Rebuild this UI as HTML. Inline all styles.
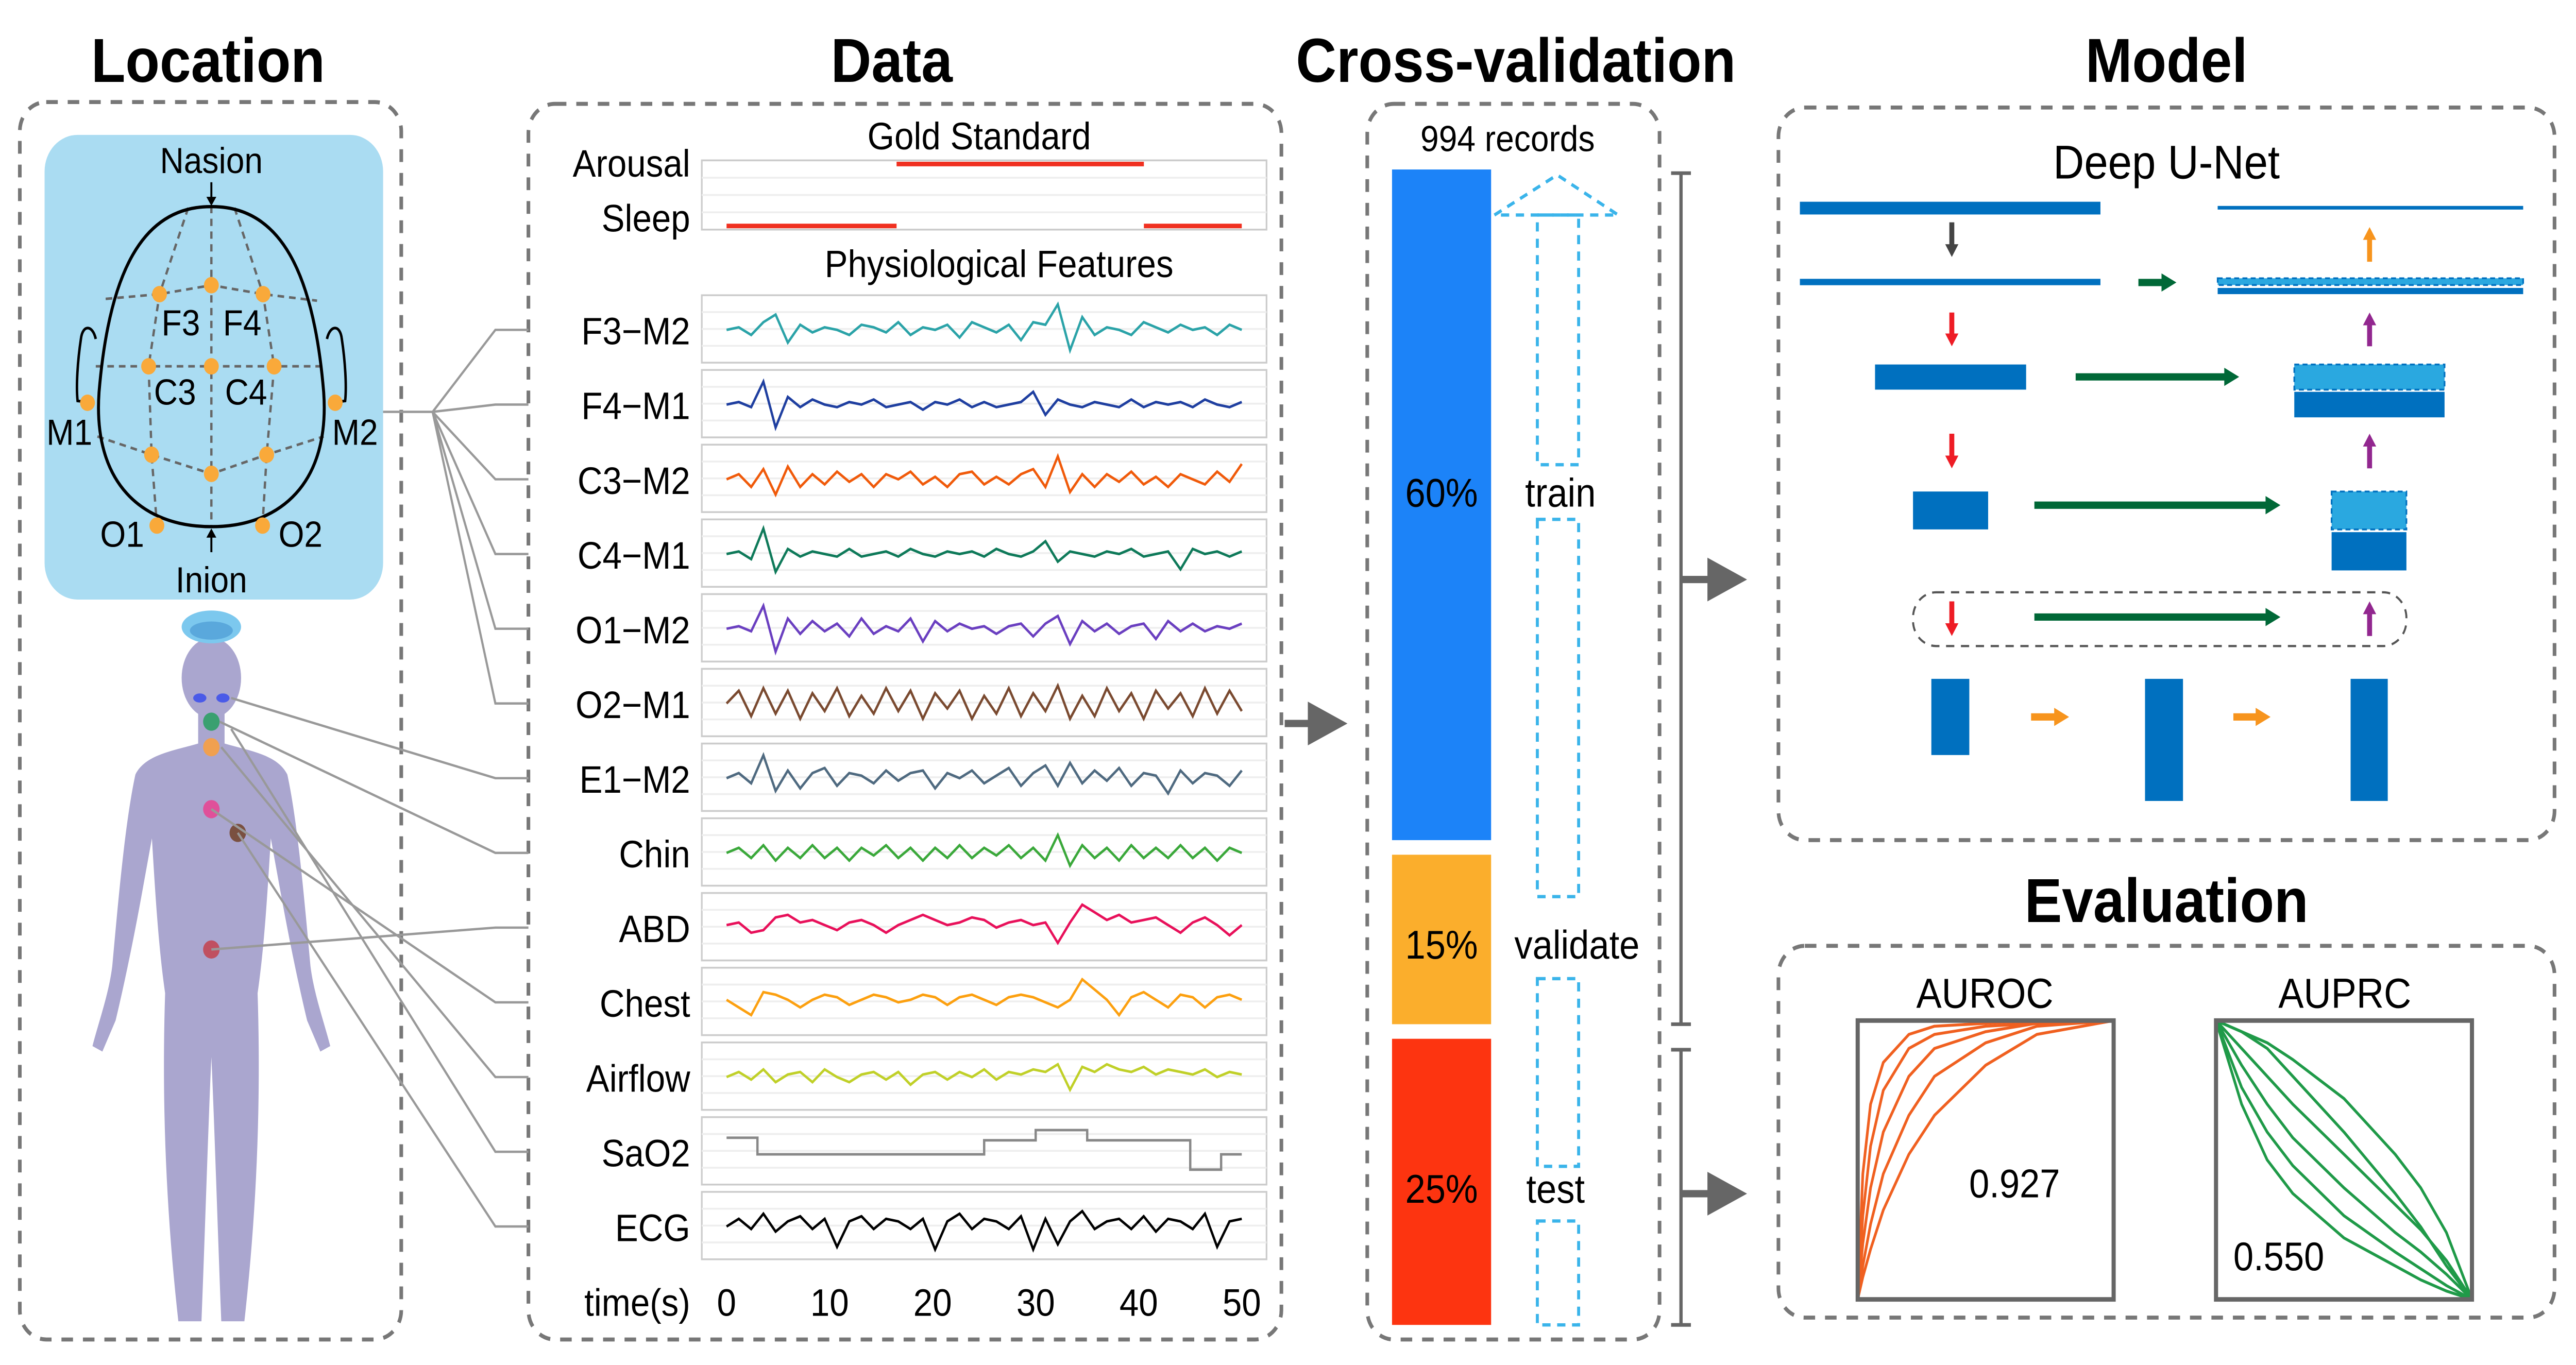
<!DOCTYPE html>
<html><head><meta charset="utf-8"><style>
html,body{margin:0;padding:0;background:#fff;overflow:hidden;width:100%;height:100%}
svg{display:block;position:fixed;left:0;top:0;width:100vw;height:100vh;font-family:"Liberation Sans",Arial,sans-serif}
</style></head><body>
<svg id="fig" viewBox="0 0 1560 749" preserveAspectRatio="none" xmlns="http://www.w3.org/2000/svg">
<defs>
<marker id="ag" markerWidth="6" markerHeight="6" refX="5" refY="3" orient="auto"><path d="M0,0 L6,3 L0,6 Z" fill="#666"/></marker>
</defs>
<g font-weight="bold" font-size="34" text-anchor="middle" fill="#000">
<text x="126" y="45">Location</text>
<text x="540" y="45">Data</text>
<text x="918" y="45">Cross-validation</text>
<text x="1312" y="45">Model</text>
<text x="1312" y="506">Evaluation</text>
</g>
<g fill="none" stroke="#777" stroke-width="2.2" stroke-dasharray="7,6">
<rect x="12" y="56" width="231" height="679" rx="16"/>
<rect x="320" y="57" width="456" height="678" rx="16"/>
<rect x="828" y="57" width="177" height="678" rx="16"/>
<rect x="1077" y="59" width="470" height="402" rx="16"/>
<rect x="1077" y="519" width="470" height="204" rx="16"/>
</g>
<rect x="27" y="74" width="205" height="255" rx="20" fill="#aadcf2"/>
<g fill="none" stroke="#666" stroke-width="1.4" stroke-dasharray="4,3">
<path d="M128,113 L128,289"/>
<path d="M114,114 L96.6,161.4 L90,201 L91.8,249.5 L95,288"/>
<path d="M142,114 L159.3,161.4 L166,201 L161.5,249.5 L159,288"/>
<path d="M64,164 L96.6,161.4 L128,156.5 L159.3,161.4 L192,165"/>
<path d="M58,201 L198,201"/>
<path d="M59,239.5 L91.8,249.5 L128,260 L161.5,249.5 L196,239.5"/>
</g>
<path d="M128,113.4 C170,113 190,150 196,215 C200,265 170,289 128,289 C86,289 56,265 60,215 C66,150 86,113 128,113.4 Z" fill="none" stroke="#000" stroke-width="1.8"/>
<path d="M58,186 C56,178 50,178 49,186 C47,198 46,212 47,220 L56,221" fill="none" stroke="#000" stroke-width="1.5"/>
<path d="M198,186 C200,178 206,178 207,186 C209,198 210,212 209,220 L200,221" fill="none" stroke="#000" stroke-width="1.5"/>
<g fill="#f9a93a">
<circle cx="96.6" cy="161.4" r="4.5"/><circle cx="128" cy="156.5" r="4.5"/><circle cx="159.3" cy="161.4" r="4.5"/>
<circle cx="90" cy="201" r="4.5"/><circle cx="128" cy="201" r="4.5"/><circle cx="166" cy="201" r="4.5"/>
<circle cx="53" cy="221" r="4.5"/><circle cx="203" cy="221" r="4.5"/>
<circle cx="91.8" cy="249.5" r="4.5"/><circle cx="128" cy="260" r="4.5"/><circle cx="161.5" cy="249.5" r="4.5"/>
<circle cx="95" cy="288.4" r="4.5"/><circle cx="159" cy="288.4" r="4.5"/>
</g>
<g font-size="20" text-anchor="middle" fill="#000">
<text x="128" y="95">Nasion</text>
<text x="128" y="325">Inion</text>
<text x="109.5" y="184">F3</text>
<text x="146.7" y="184">F4</text>
<text x="106" y="222">C3</text>
<text x="149" y="222">C4</text>
<text x="42" y="244">M1</text>
<text x="215" y="244">M2</text>
<text x="74" y="300">O1</text>
<text x="182" y="300">O2</text>
</g>
<path d="M128,100 L128,110" stroke="#000" stroke-width="1.2"/><path d="M125,108 L128,113 L131,108Z" fill="#000"/>
<path d="M128,303 L128,293" stroke="#000" stroke-width="1.2"/><path d="M125,295 L128,290 L131,295Z" fill="#000"/>
<path fill="#aaa6cf" d="M120,390 L120,408 C105,412 88,414 82,425 C76,450 72,490 68,530 C66,545 60,560 56,574 L62,577 L70,560 C74,545 80,520 86,490 L92,460 C94,490 96,520 100,545 C98,600 100,660 108,725 L122,725 C124,680 126,620 128,580 C130,620 132,680 134,725 L148,725 C156,660 158,600 156,545 C160,520 162,490 164,460 L170,490 C176,520 182,545 186,560 L194,577 L200,574 C196,560 190,545 188,530 C184,490 180,450 174,425 C168,414 151,412 136,408 L136,390 Z"/>
<ellipse cx="128" cy="372" rx="18" ry="22" fill="#aaa6cf"/>
<ellipse cx="128" cy="344" rx="18" ry="9" fill="#7cc8ee"/>
<ellipse cx="128" cy="346" rx="13" ry="5" fill="#5aa8dc"/>
<g>
<ellipse cx="121" cy="383" rx="4" ry="2.5" fill="#4a5ae8"/><ellipse cx="135" cy="383" rx="4" ry="2.5" fill="#4a5ae8"/>
<circle cx="128" cy="396" r="5" fill="#3aa070"/><circle cx="128" cy="410" r="5" fill="#f0a050"/>
<circle cx="128" cy="444" r="5" fill="#e0509a"/><circle cx="144" cy="457" r="5" fill="#7a5040"/>
<circle cx="128" cy="521" r="5" fill="#c05060"/>
</g>
<g id="connectors" fill="none" stroke="#999" stroke-width="1.3"></g>
<g id="panels"></g>
<g font-size="21" text-anchor="middle">
<text x="593" y="82">Gold Standard</text>
<text x="605" y="152">Physiological Features</text>
</g>
<path d="M778,397 L812,397" stroke="#666" stroke-width="4" marker-end="url(#ag)"/>
<text x="913" y="83" font-size="20" text-anchor="middle">994 records</text>
<rect x="843" y="93" width="60" height="368" fill="#1c83f8"/>
<rect x="843" y="469" width="60" height="93" fill="#fbae2c"/>
<rect x="843" y="570" width="60" height="157" fill="#fd3410"/>
<g font-size="22">
<text x="873" y="278" text-anchor="middle">60%</text><text x="945" y="278" text-anchor="middle">train</text>
<text x="873" y="526" text-anchor="middle">15%</text><text x="955" y="526" text-anchor="middle">validate</text>
<text x="873" y="660" text-anchor="middle">25%</text><text x="942" y="660" text-anchor="middle">test</text>
</g>
<g fill="none" stroke="#3ab4ea" stroke-width="1.8" stroke-dasharray="5,4">
<path d="M905,118 L943,96 L980,118 Z"/>
<rect x="931" y="118" width="25" height="137"/>
<rect x="931" y="285" width="25" height="207"/>
<rect x="931" y="537" width="25" height="103"/>
<rect x="931" y="670" width="25" height="57"/>
</g>
<g stroke="#666" stroke-width="2" fill="none">
<path d="M1012,95 L1024,95 M1018,95 L1018,562 M1012,562 L1024,562"/>
<path d="M1012,576 L1024,576 M1018,576 L1018,727 M1012,727 L1024,727"/>
</g>
<path d="M1018,318 L1054,318" stroke="#666" stroke-width="4" marker-end="url(#ag)"/>
<path d="M1018,655 L1054,655" stroke="#666" stroke-width="4" marker-end="url(#ag)"/>
<text x="1312" y="98" font-size="26" text-anchor="middle">Deep U-Net</text>
<g id="unet">
<rect x="1090" y="110.7" width="182" height="7" fill="#0070bf"/>
<rect x="1343" y="113" width="185" height="2" fill="#0070bf"/>
<rect x="1090" y="153" width="182" height="3.5" fill="#0070bf"/>
<rect x="1343" y="152.7" width="185" height="3.7" fill="#2aa8e0" stroke="#0070bf" stroke-width="1" stroke-dasharray="3,2"/>
<rect x="1343" y="158" width="185" height="3.4" fill="#0070bf"/>
<rect x="1135.5" y="200" width="91.5" height="13.8" fill="#0070bf"/>
<rect x="1389.4" y="200" width="91" height="13.8" fill="#2aa8e0" stroke="#0070bf" stroke-width="1" stroke-dasharray="3,2"/>
<rect x="1389.4" y="215" width="91" height="14" fill="#0070bf"/>
<rect x="1158.5" y="269.7" width="45.5" height="20.8" fill="#0070bf"/>
<rect x="1412" y="269.7" width="45.3" height="20.8" fill="#2aa8e0" stroke="#0070bf" stroke-width="1" stroke-dasharray="3,2"/>
<rect x="1412" y="292" width="45.3" height="21" fill="#0070bf"/>
<rect x="1158.5" y="325" width="298.8" height="29.5" rx="14" fill="none" stroke="#555" stroke-width="1.2" stroke-dasharray="5,4"/>
<rect x="1169.6" y="372.5" width="23" height="41.8" fill="#0070bf"/>
<rect x="1299" y="372.5" width="23" height="67" fill="#0070bf"/>
<rect x="1423.5" y="372.5" width="22.5" height="67" fill="#0070bf"/>
</g>
<g id="unetArrows"></g>
<text x="1202" y="553" font-size="23" text-anchor="middle">AUROC</text>
<text x="1420" y="553" font-size="23" text-anchor="middle">AUPRC</text>
<g id="roc"></g><g id="prc"></g>
<rect x="1125" y="560" width="155" height="153" fill="none" stroke="#666" stroke-width="2.5"/>
<rect x="1342" y="560" width="155" height="153" fill="none" stroke="#666" stroke-width="2.5"/>
<text x="1220" y="657" font-size="22" text-anchor="middle">0.927</text>
<text x="1380" y="697" font-size="22" text-anchor="middle">0.550</text>
</svg>
<script>
const channelNames = ["F3\u2212M2","F4\u2212M1","C3\u2212M2","C4\u2212M1","O1\u2212M2","O2\u2212M1","E1\u2212M2","Chin","ABD","Chest","Airflow","SaO2","ECG"];
const channelColors = ["#2ba3a8","#1f3fa0","#f05a0a","#0f7a5a","#6a3fc0","#7a4a30","#4f6a80","#3aa83a","#e8105a","#fca010","#c0d028","#888888","#000000"];
const sigF3 = [0,.1,-.2,.3,.6,-.5,.2,-.1,.1,0,-.2,.2,.1,-.1,.3,-.2,.1,0,.2,-.3,.3,.1,-.1,.2,-.4,.3,.2,1,-.8,.5,-.2,.1,0,-.2,.3,.1,-.1,.2,0,.1,-.2,.2,0];
const sigF4 = [0,.1,-.1,.9,-.9,.3,-.1,.2,0,-.1,.1,0,.2,-.1,0,.1,-.2,.1,0,.2,-.1,.1,-.1,0,.1,.5,-.4,.2,0,-.1,.1,0,-.1,.2,-.1,.1,0,.1,-.1,.2,0,-.1,.1];
const sigC3 = [0,.2,-.3,.4,-.6,.5,-.3,.2,-.2,.3,-.1,.2,-.3,.2,0,.3,-.2,.1,-.3,.2,.3,-.2,.1,-.2,.2,.4,-.3,.9,-.5,.2,-.3,.2,-.1,.3,-.2,.1,-.3,.2,0,-.2,.3,-.1,.6];
const sigC4 = [0,.1,-.2,1,-.7,.2,-.1,.1,0,-.1,.2,-.1,0,.1,-.1,.2,0,-.1,.1,0,.1,-.1,.2,0,-.1,.1,.5,-.3,.1,0,-.1,.1,0,.2,-.1,0,.1,-.6,.2,0,.1,-.1,.1];
const sigO1 = [0,.1,-.1,.9,-.9,.4,-.2,.3,-.1,.2,-.3,.4,-.2,.1,-.1,.4,-.5,.3,-.1,.2,0,.1,-.2,.1,.2,-.3,.2,.5,-.6,.3,-.1,.2,-.2,.1,.2,-.4,.3,-.1,.2,-.1,.1,0,.2];
const sigO2 = [0,.5,-.5,.6,-.4,.5,-.6,.4,-.3,.6,-.5,.3,-.4,.6,-.3,.5,-.6,.4,-.2,.5,-.6,.3,-.4,.6,-.5,.4,-.3,.7,-.6,.3,-.5,.6,-.3,.4,-.6,.5,-.2,.4,-.5,.6,-.4,.5,-.3];
const sigE1 = [0,.2,-.2,.9,-.5,.3,-.4,.2,.4,-.3,.2,.1,-.2,.3,-.1,.2,.3,-.4,.2,0,.3,-.2,.1,.4,-.3,.2,.5,-.3,.6,-.2,.3,-.1,.4,-.3,.2,.1,-.6,.3,-.2,.2,.1,-.3,.3];
const sigChin = [0,.2,-.2,.3,-.3,.2,-.2,.3,-.2,.2,-.3,.2,-.1,.3,-.2,.2,-.3,.2,-.2,.3,-.2,.2,-.1,.3,-.2,.2,-.3,.7,-.5,.3,-.2,.2,-.3,.3,-.2,.2,-.2,.3,-.2,.2,-.3,.2,0];
const sigABD = [.1,.2,-.2,-.1,.4,.5,.2,.3,.1,-.1,.2,.3,.1,-.2,.1,.3,.5,.3,.1,.2,.4,.3,0,.2,.3,.1,.2,-.6,.2,.9,.6,.3,.5,.2,.3,.4,.1,-.2,.2,.4,.1,-.3,.1];
const sigChest = [.1,-.2,-.5,.4,.3,.1,-.2,.1,.3,.2,-.1,.1,.3,.2,0,.1,.3,.2,-.1,.2,.3,.1,-.1,.2,.3,.2,0,-.2,.1,.9,.5,.1,-.5,.2,.4,.1,-.2,.3,.2,-.2,.2,.3,.1];
const sigAirflow = [0,.2,-.1,.3,-.2,.1,.2,-.2,.3,0,-.2,.1,.2,-.1,.2,-.3,.1,.2,-.1,.2,0,.3,-.1,.2,.1,.3,.2,.5,-.5,.4,.2,.5,.3,.2,.4,.1,.3,.2,.1,.3,0,.2,.1];
const sigECG = [0,.3,-.1,.5,-.2,.2,.4,-.1,.3,-.8,.2,.4,-.1,.3,.2,-.1,.3,-.9,.2,.5,-.1,.3,.2,-.1,.4,-.9,.3,-.7,.2,.6,-.1,.2,.3,-.1,.4,-.2,.3,.2,-.1,.5,-.8,.2,.3];
const sao2Times = [0,3,3,25,25,30,30,35,35,45,45,48,48,50];
const sao2Values = [.55,.55,-.1,-.1,.45,.45,.85,.85,.45,.45,-.7,-.7,-.1,-.1];
const channelSignals = [sigF3,sigF4,sigC3,sigC4,sigO1,sigO2,sigE1,sigChin,sigABD,sigChest,sigAirflow,null,sigECG];
const timeTicks = [0,10,20,30,40,50];
const arousalSegments = [[16.5,40.5]];
const sleepSegments = [[0,16.5],[40.5,50]];
const rocX = [0,.02,.05,.1,.2,.3,.5,.7,1];
const rocCurve1 = [0,.45,.7,.85,.95,.98,.99,1,1];
const rocCurve2 = [0,.3,.55,.75,.9,.95,.98,.99,1];
const rocCurve3 = [0,.2,.4,.6,.8,.9,.96,.99,1];
const rocCurve4 = [0,.12,.27,.45,.66,.8,.92,.98,1];
const rocCurve5 = [0,.08,.18,.32,.52,.66,.84,.95,1];
const prcX = [0,.1,.2,.3,.5,.7,.8,.9,1];
const prcCurve1 = [1,.96,.92,.86,.72,.52,.4,.24,0];
const prcCurve2 = [1,.9,.8,.7,.52,.34,.25,.14,0];
const prcCurve3 = [1,.84,.7,.58,.4,.24,.17,.09,0];
const prcCurve4 = [1,.76,.6,.48,.3,.17,.11,.05,0];
const prcCurve5 = [1,.7,.5,.38,.22,.12,.07,.03,0];
const prcCurve6 = [1,.96,.9,.8,.6,.38,.26,.12,0];

const NS="http://www.w3.org/2000/svg";
function mk(tag, attrs, parent){const e=document.createElementNS(NS,tag);for(const k in attrs)e.setAttribute(k,attrs[k]);parent.appendChild(e);return e;}
const xT = t => 440 + (752-440)*t/50;
const rowY = i => 181 + i*41;
const panels=document.getElementById('panels');
const gp=mk('rect',{x:425,y:88,width:342,height:38,fill:'#fff',stroke:'#ccc','stroke-width':1},panels);


for(let k=1;k<4;k++){mk('line',{x1:425,x2:767,y1:88+k*9.5,y2:88+k*9.5,stroke:'#eee','stroke-width':1},panels);}
arousalSegments.forEach(s=>{const l=mk('line',{x1:xT(s[0]),x2:xT(s[1]),y1:90,y2:90,stroke:'#f03020','stroke-width':2.5},panels);

});
sleepSegments.forEach(s=>{const l=mk('line',{x1:xT(s[0]),x2:xT(s[1]),y1:124,y2:124,stroke:'#f03020','stroke-width':2.5},panels);

});
let t1=mk('text',{x:418,y:97,'font-size':21,'text-anchor':'end'},panels);t1.textContent='Arousal';


let t2=mk('text',{x:418,y:127,'font-size':21,'text-anchor':'end'},panels);t2.textContent='Sleep';


channelNames.forEach((nm,i)=>{
  const cy=rowY(i);
  const r=mk('rect',{x:425,y:cy-19,width:342,height:37,fill:'#fff',stroke:'#ccc','stroke-width':1},panels);
  
  
  for(let k=1;k<4;k++){mk('line',{x1:425,x2:767,y1:cy-19+k*9.25,y2:cy-19+k*9.25,stroke:'#eee','stroke-width':1},panels);}
  const lb=mk('text',{x:418,y:cy+8,'font-size':21,'text-anchor':'end'},panels);lb.textContent=nm;
  
  
  let d='';
  const sig=channelSignals[i];
  if(sig){sig.forEach((v,j)=>{const t=50*j/(sig.length-1);d+=(j?'L':'M')+xT(t).toFixed(1)+','+(cy-v*14).toFixed(1);});}
  else {sao2Times.forEach((t,j)=>{d+=(j?'L':'M')+xT(t).toFixed(1)+','+(cy-sao2Values[j]*14).toFixed(1);});}
  const p=mk('path',{d:d,fill:'none',stroke:channelColors[i],'stroke-width':1.4},panels);
  
  
});
const tl=mk('text',{x:418,y:722,'font-size':21,'text-anchor':'end'},panels);tl.textContent='time(s)';


timeTicks.forEach(t=>{const e=mk('text',{x:xT(t),y:722,'font-size':21,'text-anchor':'middle'},panels);e.textContent=t;

});
const con=document.getElementById('connectors');
mk('path',{d:'M232,226 L262,226'},con);
[0,1,2,3,4,5].forEach(i=>{mk('path',{d:`M262,226 L300,${rowY(i)} L320,${rowY(i)}`},con);});
[[140,383,6],[133,396,7],[128,521,8],[128,444,9],[134,410,10],[140,400,11],[144,457,12]].forEach(b=>{mk('path',{d:`M${b[0]},${b[1]} L300,${rowY(b[2])} L320,${rowY(b[2])}`},con);});
const ua=document.getElementById('unetArrows');
function vArrow(x,y1,y2,c){mk('line',{x1:x,x2:x,y1:y1,y2:y2+(y2>y1?-6:6),stroke:c,'stroke-width':3},ua);
 const s=y2>y1?-1:1;mk('path',{d:`M${x-4},${y2+s*7} L${x},${y2} L${x+4},${y2+s*7}Z`,fill:c},ua);}
function hArrow(x1,x2,y,c,w){mk('line',{x1:x1,x2:x2-7,y1:y,y2:y,stroke:c,'stroke-width':w},ua);
 mk('path',{d:`M${x2-9},${y-5} L${x2},${y} L${x2-9},${y+5}Z`,fill:c},ua);}
vArrow(1182,122,141,'#444');vArrow(1182,171.5,190,'#ee1c25');vArrow(1182,238,257,'#ee1c25');vArrow(1182,330,349,'#ee1c25');
vArrow(1435,143.6,124.6,'#f7941d');vArrow(1435,190,171.5,'#92278f');vArrow(1435,257,238,'#92278f');vArrow(1435,349,330,'#92278f');
hArrow(1295,1318,155,'#006837',4);hArrow(1257,1356,206.8,'#006837',4);hArrow(1232,1381,277.2,'#006837',4);hArrow(1232,1381,338.6,'#006837',4);
hArrow(1230,1253,393.4,'#f7941d',4);hArrow(1352.5,1375,393.4,'#f7941d',4);
const rx=v=>1125+155*v, ry=v=>713-153*v, px=v=>1342+155*v;
[rocCurve1,rocCurve2,rocCurve3,rocCurve4,rocCurve5].forEach(c=>{let d='';c.forEach((v,j)=>{d+=(j?'L':'M')+rx(rocX[j]).toFixed(1)+','+ry(v).toFixed(1);});
 const p=mk('path',{d:d,fill:'none',stroke:'#f06020','stroke-width':1.6,'stroke-linejoin':'round'},document.getElementById('roc'));
 
 });
[prcCurve1,prcCurve2,prcCurve3,prcCurve4,prcCurve5,prcCurve6].forEach(c=>{let d='';c.forEach((v,j)=>{d+=(j?'L':'M')+px(prcX[j]).toFixed(1)+','+ry(v).toFixed(1);});
 const p=mk('path',{d:d,fill:'none',stroke:'#1f9a48','stroke-width':1.6,'stroke-linejoin':'round'},document.getElementById('prc'));
 
 });
</script>
</body></html>
